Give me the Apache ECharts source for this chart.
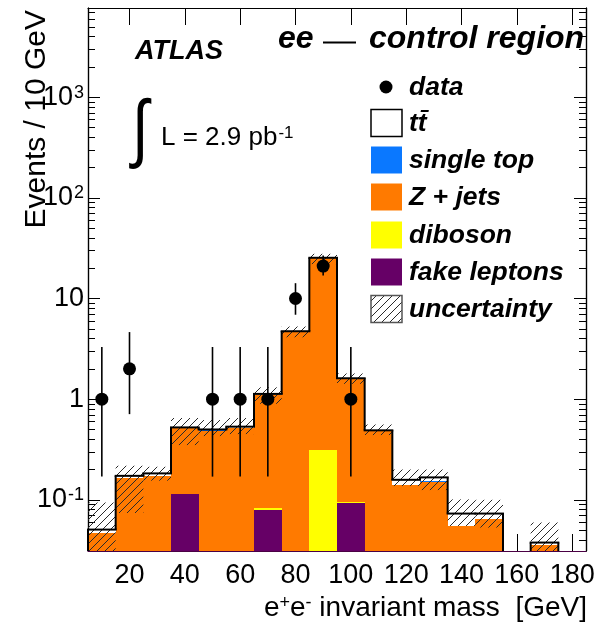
<!DOCTYPE html>
<html>
<head>
<meta charset="utf-8">
<script src="https://cdn.jsdelivr.net/npm/echarts@6/dist/echarts.min.js"></script>
<style>
  html, body { margin: 0; padding: 0; background: #fff; }
  #chart { width: 598px; height: 629px; }
</style>
</head>
<body>
<div id="chart"></div>
<script>
// 10 GeV bins from 5 to 185 GeV, labelled by their centres
const binCenters = [10, 20, 30, 40, 50, 60, 70, 80, 90, 100, 110, 120, 130, 140, 150, 160, 170, 180];

// expected events per bin, stacked bottom to top
const fakeLeptons = [0, 0, 0, 0.115, 0, 0, 0.079, 0, 0, 0.092, 0, 0, 0, 0, 0, 0, 0, 0];
const diboson     = [0, 0, 0, 0, 0, 0, 0.0036, 0, 0.31, 0.003, 0, 0, 0, 0, 0, 0, 0, 0];
const zJets       = [0.0464, 0.164, 0.173, 0.397, 0.488, 0.518, 1.005, 4.65, 24.8, 1.485, 0.478, 0.140, 0.152, 0.0552, 0.065, 0, 0.0358, 0];
const singleTop   = [0, 0.0003, 0.0003, 0.001, 0.001, 0.001, 0.002, 0.004, 0.006, 0.002, 0.001, 0.0003, 0.0003, 0.0002, 0.0002, 0, 0, 0];
const ttbar       = [0.0042, 0.0087, 0.0097, 0.011, 0.011, 0.014, 0.038, 0.076, 0.28, 0.031, 0.011, 0.0177, 0.0147, 0.0176, 0.0078, 0, 0.0018, 0];

// total uncertainty band (lower / upper edge)
const uncLow  = [0.012, 0.074, 0.155, 0.35, 0.43, 0.45, 0.90, 4.12, 22.0, 1.42, 0.44, 0.137, 0.125, 0.055, 0.053, 0, 0.012, 0];
const uncHigh = [0.094, 0.218, 0.213, 0.65, 0.62, 0.65, 1.31, 5.27, 27.8, 1.80, 0.56, 0.20, 0.20, 0.101, 0.100, 0, 0.0595, 0];

// observed events with Poisson error bar edges
const dataCounts   = [1, 2, 0, 0, 1, 1, 1, 10, 21, 1, 0, 0, 0, 0, 0, 0, 0, 0];
const dataLowEdge  = [0.17, 0.71, 0, 0, 0.17, 0.17, 0.17, 6.9, 16.9, 0.17, 0, 0, 0, 0, 0, 0, 0, 0];
const dataHighEdge = [3.3, 4.64, 0, 0, 3.3, 3.3, 3.3, 14.2, 26.8, 3.3, 0, 0, 0, 0, 0, 0, 0, 0];

// axis ticks and labels
const xTicks = [20, 40, 60, 80, 100, 120, 140, 160, 180];
const yMajorTicks = [0.1, 1, 10, 100, 1000];
const yTickLabels = ['10{s|-1}', '1', '10', '10{s|2}', '10{s|3}'];
const yMinorTicks = [0.04, 0.05, 0.06, 0.07, 0.08, 0.09,
  0.2, 0.3, 0.4, 0.5, 0.6, 0.7, 0.8, 0.9,
  2, 3, 4, 5, 6, 7, 8, 9,
  20, 30, 40, 50, 60, 70, 80, 90,
  200, 300, 400, 500, 600, 700, 800, 900,
  2000, 3000, 4000, 5000, 6000, 7000];

const X_MIN = 5, X_MAX = 185, HALF_BIN = 5;
const Y_MIN = 0.031, Y_MAX = 7700;
const FONT = '"Liberation Sans", Arial, Helvetica, sans-serif';

const clampY = v => Math.min(Math.max(v, Y_MIN), Y_MAX);

// diagonal hatching tile
function hatchTile() {
  const c = document.createElement('canvas');
  const s = 8;
  c.width = s; c.height = s;
  const g = c.getContext('2d');
  g.strokeStyle = '#2a2a2a';
  g.lineWidth = 1;
  g.beginPath();
  g.moveTo(0, s); g.lineTo(s, 0);
  g.moveTo(-1, 1); g.lineTo(1, -1);
  g.moveTo(s - 1, s + 1); g.lineTo(s + 1, s - 1);
  g.stroke();
  return c;
}
const hatchFill = { image: hatchTile(), repeat: 'repeat' };

function renderBox(params, api) {
  const c = api.value(0);
  const a = api.coord([c - HALF_BIN, clampY(api.value(2))]);
  const b = api.coord([c + HALF_BIN, clampY(api.value(1))]);
  const x0 = Math.round(a[0]), x1 = Math.round(b[0]);
  const y0 = Math.round(a[1]), y1 = Math.round(b[1]);
  return {
    type: 'rect',
    shape: { x: x0, y: y0, width: x1 - x0, height: y1 - y0 },
    style: { fill: api.visual('color') }
  };
}

// stacked components
const layers = [
  { name: 'fake leptons', values: fakeLeptons, color: '#660066' },
  { name: 'diboson', values: diboson, color: '#ffff00' },
  { name: 'Z + jets', values: zJets, color: '#ff7a00' },
  { name: 'single top', values: singleTop, color: '#0a78ff' },
  { name: 'tt\u0304', values: ttbar, color: '#ffffff' }
];
let running = binCenters.map(() => 0);
const stackSeries = layers.map(layer => {
  const rows = binCenters.map((c, i) => [c, running[i], running[i] + layer.values[i]]);
  running = rows.map(r => r[2]);
  return {
    type: 'custom',
    name: layer.name,
    renderItem: renderBox,
    data: rows.filter(r => r[2] > r[1]),
    encode: { x: 0, y: 2 },
    itemStyle: { color: layer.color, opacity: 1 },
    z: 2,
    silent: true
  };
});
const totals = running;

// uncertainty band
const bandSeries = {
  type: 'custom',
  name: 'uncertainty',
  data: binCenters.map((c, i) => [c, uncLow[i], uncHigh[i]]).filter(r => r[2] > 0),
  encode: { x: 0, y: 2 },
  z: 3,
  silent: true,
  renderItem(params, api) {
    const c = api.value(0);
    const a = api.coord([c - HALF_BIN, clampY(api.value(2))]);
    const b = api.coord([c + HALF_BIN, clampY(api.value(1))]);
    return {
      type: 'rect',
      shape: { x: a[0], y: a[1], width: b[0] - a[0], height: b[1] - a[1] },
      style: { fill: hatchFill }
    };
  }
};

// outline of the summed prediction
const outlineSeries = {
  type: 'custom',
  name: 'total',
  data: binCenters.map((c, i) => [c, totals[i], i > 0 ? totals[i - 1] : 0, i === binCenters.length - 1 ? 1 : 0]),
  encode: { x: 0, y: 1 },
  z: 4,
  silent: true,
  renderItem(params, api) {
    const c = api.value(0), cur = api.value(1), prev = api.value(2), last = api.value(3);
    const xl = api.coord([c - HALF_BIN, Y_MIN])[0];
    const xr = api.coord([c + HALF_BIN, Y_MIN])[0];
    const yc = api.coord([c, clampY(cur)])[1];
    const yp = api.coord([c, clampY(prev)])[1];
    const yb = api.coord([c, Y_MIN])[1];
    const st = { stroke: '#000', lineWidth: 2, fill: null };
    const kids = [];
    if (Math.abs(yc - yp) > 0.1) kids.push({ type: 'line', shape: { x1: xl, y1: yp, x2: xl, y2: yc }, style: st });
    if (cur > 0) kids.push({ type: 'line', shape: { x1: xl - 1, y1: yc, x2: xr + 1, y2: yc }, style: st });
    if (last && cur > 0) kids.push({ type: 'line', shape: { x1: xr, y1: yc, x2: xr, y2: yb }, style: st });
    return { type: 'group', children: kids };
  }
};

// data error bars
const errorSeries = {
  type: 'custom',
  name: 'data errors',
  data: binCenters.map((c, i) => [c, dataLowEdge[i], dataHighEdge[i]]).filter((r, i) => dataCounts[i] > 0),
  encode: { x: 0, y: 2 },
  z: 5,
  silent: true,
  renderItem(params, api) {
    const c = api.value(0);
    const a = api.coord([c, clampY(api.value(1))]);
    const b = api.coord([c, clampY(api.value(2))]);
    return { type: 'line', shape: { x1: a[0], y1: a[1], x2: b[0], y2: b[1] }, style: { stroke: '#000', lineWidth: 1.6 } };
  }
};

const dataSeries = {
  type: 'scatter',
  name: 'data',
  data: binCenters.map((c, i) => [c, dataCounts[i]]).filter(r => r[1] > 0),
  symbol: 'circle',
  symbolSize: 13,
  itemStyle: { color: '#000', opacity: 1 },
  z: 6,
  silent: true
};

const gridBox = { left: 88, right: 12, top: 8, bottom: 78 };

function xAxisDef(pos) {
  return {
    type: 'value', position: pos, min: X_MIN, max: X_MAX,
    axisLine: { show: true, onZero: false, lineStyle: { color: pos === 'bottom' ? '#4a0044' : '#000', width: 1.2 } },
    axisTick: { show: true, inside: true, length: 17, customValues: xTicks, lineStyle: { color: '#000', width: 1 } },
    axisLabel: pos === 'bottom'
      ? { show: true, customValues: xTicks, fontSize: 27, fontFamily: FONT, color: '#000', margin: 11 }
      : { show: false },
    splitLine: { show: false }
  };
}

function yAxisDef(pos, ticks, len, labels) {
  return {
    type: 'log', logBase: 10, position: pos, min: Y_MIN, max: Y_MAX,
    axisLine: { show: true, onZero: false, lineStyle: { color: '#000', width: 1.2 } },
    axisTick: { show: true, inside: true, length: len, customValues: ticks, lineStyle: { color: '#000', width: 1 } },
    axisLabel: labels
      ? {
          show: true, customValues: ticks, fontSize: 27, fontFamily: FONT, color: '#000', margin: 4,
          formatter: v => yTickLabels[Math.round(Math.log10(v)) + 1],
          rich: { s: { fontSize: 18, fontFamily: FONT, color: '#000', verticalAlign: 'top', padding: [0, 0, 7, 1] } }
        }
      : { show: false },
    splitLine: { show: false }
  };
}

const legendRows = [
  { label: 'data', y: 87, kind: 'dot' },
  { label: 'tt\u0304', y: 123, kind: 'box', fill: '#ffffff', stroke: '#000' },
  { label: 'single top', y: 160, kind: 'box', fill: '#0a78ff' },
  { label: 'Z + jets', y: 197, kind: 'box', fill: '#ff7a00' },
  { label: 'diboson', y: 235, kind: 'box', fill: '#ffff00' },
  { label: 'fake leptons', y: 272, kind: 'box', fill: '#660066' },
  { label: 'uncertainty', y: 309, kind: 'box', fill: hatchFill, stroke: '#555' }
];

const legendGraphics = [];
legendRows.forEach(r => {
  if (r.kind === 'dot') {
    legendGraphics.push({ type: 'circle', shape: { cx: 386, cy: r.y, r: 6.5 }, style: { fill: '#000' }, z: 100 });
  } else {
    legendGraphics.push({
      type: 'rect', shape: { x: 371, y: r.y - 13.5, width: 31, height: 27 },
      style: { fill: r.fill, stroke: r.stroke || null, lineWidth: r.stroke ? 1.5 : 0 }, z: 100
    });
  }
  legendGraphics.push({
    type: 'text', z: 100,
    style: { text: r.label, x: 409, y: r.y + 1, font: 'italic bold 26.5px ' + FONT, fill: '#000', textVerticalAlign: 'middle' }
  });
});

const chart = echarts.init(document.getElementById('chart'), null, { renderer: 'canvas' });
chart.setOption({
  animation: false,
  backgroundColor: '#fff',
  grid: gridBox,
  xAxis: [xAxisDef('bottom'), xAxisDef('top')],
  yAxis: [
    yAxisDef('left', yMajorTicks, 12, true),
    yAxisDef('right', yMajorTicks, 12, false),
    yAxisDef('left', yMinorTicks, 7, false),
    yAxisDef('right', yMinorTicks, 7, false)
  ],
  series: [...stackSeries, bandSeries, outlineSeries, errorSeries, dataSeries],
  graphic: [
    { type: 'text', z: 100, style: { text: 'ATLAS', x: 135, y: 52, font: 'italic bold 27px ' + FONT, fill: '#000', textVerticalAlign: 'middle' } },
    { type: 'text', z: 100, style: { text: 'ee', x: 278, y: 39, font: 'italic bold 32px ' + FONT, fill: '#000', textVerticalAlign: 'middle' } },
    { type: 'line', z: 100, shape: { x1: 323, y1: 42.5, x2: 356, y2: 42.5 }, style: { stroke: '#000', lineWidth: 2 } },
    { type: 'text', z: 100, style: { text: 'control region', x: 369, y: 39, font: 'italic bold 32px ' + FONT, fill: '#000', textVerticalAlign: 'middle' } },
    { type: 'text', z: 100, scaleY: 1.25, x: 132, y: 132, style: { text: '\u222B', x: 0, y: 0, font: '60px ' + FONT, fill: '#000', textVerticalAlign: 'middle' } },
    {
      type: 'text', z: 100,
      style: {
        text: 'L = 2.9 pb{s|-1}', x: 161, y: 138, font: '26px ' + FONT, fill: '#000', textVerticalAlign: 'middle',
        rich: { s: { fontSize: 17, fontFamily: FONT, verticalAlign: 'top', padding: [0, 0, 8, 1] } }
      }
    },
    {
      type: 'text', z: 100, rotation: Math.PI / 2, x: 37, y: 10,
      style: { text: 'Events / 10 GeV', x: 0, y: 0, font: '30px ' + FONT, fill: '#000', textAlign: 'right', textVerticalAlign: 'middle' }
    },
    {
      type: 'text', z: 100,
      style: {
        text: 'e{s|+}e{s|-} invariant mass  [GeV]', x: 587, y: 608, font: '28px ' + FONT, fill: '#000',
        textAlign: 'right', textVerticalAlign: 'middle',
        rich: { s: { fontSize: 18, fontFamily: FONT, verticalAlign: 'top', padding: [0, 0, 8, 0] } }
      }
    },
    ...legendGraphics
  ]
});
</script>
</body>
</html>
